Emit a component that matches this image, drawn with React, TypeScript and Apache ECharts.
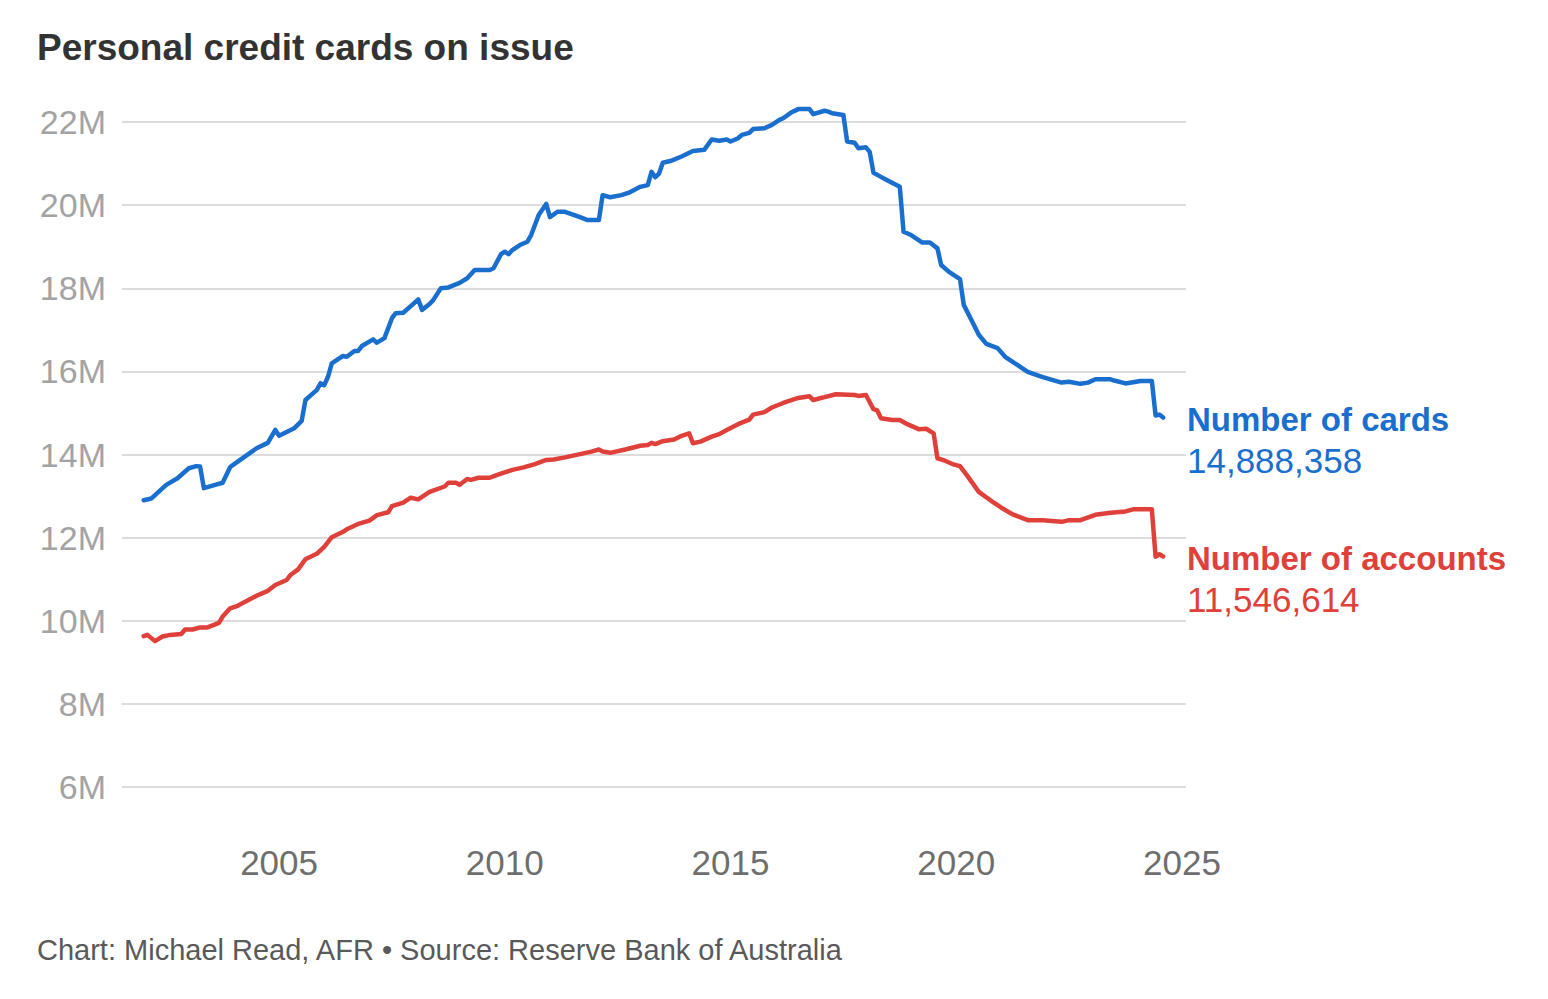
import React, { useEffect, useRef } from "react";
import * as echarts from "echarts";

const TITLE = "Personal credit cards on issue";
const FOOTER = "Chart: Michael Read, AFR \u2022 Source: Reserve Bank of Australia";
const X_TICKS = [2005, 2010, 2015, 2020, 2025];
const Y_MIN = 6;
const Y_MAX = 22;
const Y_STEP = 2;

const cardsDates = [
  "2002-01","2002-03","2002-07","2002-10","2003-01","2003-03","2003-04","2003-05","2003-08","2003-10","2003-12",
  "2004-02","2004-07","2004-10","2004-12","2005-01","2005-05","2005-07","2005-08","2005-10","2005-11","2005-12",
  "2006-01","2006-02","2006-03","2006-06","2006-07","2006-09","2006-10","2006-11","2007-02","2007-03","2007-05",
  "2007-07","2007-08","2007-10","2007-12","2008-02","2008-03","2008-05","2008-06","2008-08","2008-10","2009-01",
  "2009-03","2009-05","2009-09","2009-10","2009-12","2010-01","2010-02","2010-03","2010-05","2010-07","2010-08",
  "2010-10","2010-12","2011-01","2011-03","2011-05","2011-09","2011-11","2012-02","2012-03","2012-05","2012-08",
  "2012-10","2013-01","2013-03","2013-04","2013-05","2013-06","2013-07","2013-09","2013-12","2014-03","2014-06",
  "2014-08","2014-10","2014-12","2015-01","2015-03","2015-04","2015-06","2015-07","2015-10","2015-12","2016-02",
  "2016-03","2016-05","2016-07","2016-10","2016-11","2017-02","2017-03","2017-04","2017-07","2017-08","2017-10",
  "2017-11","2018-01","2018-02","2018-03","2018-05","2018-06","2018-10","2018-11","2019-01","2019-04","2019-06",
  "2019-08","2019-09","2019-11","2020-02","2020-03","2020-05","2020-07","2020-09","2020-12","2021-02","2021-04",
  "2021-08","2021-12","2022-05","2022-07","2022-10","2022-12","2023-02","2023-06","2023-07","2023-10","2023-12",
  "2024-02","2024-05","2024-06","2024-07","2024-08"
];
const cardsValues = [
  12.90,12.94,13.27,13.43,13.67,13.72,13.71,13.19,13.27,13.32,13.70,
  13.83,14.15,14.28,14.59,14.45,14.63,14.81,15.31,15.47,15.55,15.71,
  15.67,15.87,16.19,16.37,16.35,16.49,16.49,16.61,16.77,16.69,16.80,
  17.28,17.40,17.41,17.57,17.73,17.48,17.62,17.72,18.00,18.02,18.13,
  18.24,18.44,18.44,18.48,18.82,18.88,18.82,18.92,19.04,19.12,19.28,
  19.76,20.03,19.71,19.84,19.84,19.71,19.64,19.64,20.24,20.19,20.24,
  20.30,20.44,20.48,20.80,20.67,20.76,21.02,21.06,21.17,21.30,21.33,
  21.58,21.55,21.58,21.53,21.61,21.69,21.74,21.83,21.85,21.93,22.05,
  22.09,22.22,22.31,22.31,22.19,22.27,22.25,22.21,22.17,21.53,21.50,
  21.37,21.39,21.28,20.78,20.68,20.63,20.44,19.36,19.28,19.10,19.10,
  18.96,18.56,18.40,18.22,17.60,17.24,16.88,16.66,16.56,16.35,16.23,
  15.99,15.86,15.73,15.75,15.70,15.73,15.81,15.81,15.78,15.71,15.74,
  15.77,15.77,14.94,14.96,14.888358
];

const accountsDates = [
  "2002-01","2002-02","2002-04","2002-06","2002-08","2002-11","2002-12","2003-02","2003-04","2003-06","2003-09",
  "2003-10","2003-12","2004-02","2004-04","2004-07","2004-10","2004-12","2005-03","2005-04","2005-06","2005-08",
  "2005-11","2006-01","2006-03","2006-06","2006-07","2006-10","2007-01","2007-03","2007-06","2007-07","2007-10",
  "2007-12","2008-02","2008-05","2008-09","2008-10","2008-12","2009-01","2009-03","2009-04","2009-06","2009-09",
  "2009-11","2010-03","2010-06","2010-09","2010-12","2011-02","2011-05","2011-09","2011-12","2012-02","2012-03",
  "2012-05","2012-09","2013-01","2013-03","2013-04","2013-05","2013-07","2013-10","2013-12","2014-02","2014-03",
  "2014-05","2014-08","2014-10","2014-12","2015-03","2015-06","2015-07","2015-10","2015-12","2016-03","2016-07",
  "2016-10","2016-11","2017-01","2017-02","2017-05","2017-10","2017-11","2018-01","2018-03","2018-04","2018-05",
  "2018-08","2018-10","2018-12","2019-03","2019-05","2019-07","2019-08","2019-10","2019-12","2020-02","2020-04",
  "2020-07","2020-11","2021-01","2021-04","2021-08","2021-12","2022-05","2022-07","2022-10","2023-02","2023-06",
  "2023-10","2023-12","2024-05","2024-06","2024-07","2024-08"
];
const accountsValues = [
  9.63,9.66,9.51,9.62,9.66,9.68,9.79,9.79,9.84,9.84,9.95,
  10.10,10.30,10.36,10.46,10.60,10.72,10.86,10.98,11.10,11.23,11.48,
  11.61,11.78,12.01,12.14,12.20,12.33,12.41,12.54,12.61,12.76,12.84,
  12.96,12.92,13.10,13.23,13.32,13.32,13.27,13.41,13.39,13.44,13.44,
  13.51,13.63,13.69,13.77,13.87,13.88,13.93,14.01,14.07,14.12,14.07,
  14.04,14.12,14.21,14.23,14.28,14.25,14.32,14.36,14.45,14.51,14.27,
  14.31,14.43,14.49,14.59,14.73,14.84,14.96,15.02,15.13,15.24,15.36,
  15.40,15.31,15.36,15.38,15.45,15.43,15.41,15.43,15.09,15.06,14.87,
  14.83,14.83,14.73,14.61,14.62,14.51,13.91,13.85,13.77,13.72,13.48,
  13.10,12.84,12.72,12.56,12.42,12.42,12.38,12.42,12.42,12.55,12.60,
  12.63,12.68,12.68,11.54,11.60,11.546614
];

const SERIES_NAMES = ["Number of cards", "Number of accounts"];
const FINAL_LABELS = ["14,888,358", "11,546,614"];

const BLUE = "#1a6fce";
const RED = "#e0403a";
const FONT = "'Liberation Sans', Arial, sans-serif";

const toYear = (d: string) => {
  const [y, m] = d.split("-").map(Number);
  return y + (m - 1) / 12;
};

export default function App() {
  const ref = useRef<HTMLDivElement>(null);
  useEffect(() => {
    if (!ref.current) return;
    const chart = echarts.init(ref.current, null, { renderer: "svg" });
    const cards = cardsDates.map((d, i) => [toYear(d), cardsValues[i]]);
    const accounts = accountsDates.map((d, i) => [toYear(d), accountsValues[i]]);
    const lineStyle = (color: string) => ({ color, width: 4.5, cap: "round", join: "round" });
    chart.setOption({
      animation: false,
      backgroundColor: "#ffffff",
      grid: { left: 122, right: 362, top: 122, bottom: 212, containLabel: false },
      xAxis: {
        type: "value",
        min: 2001.52,
        max: 2025.09,
        axisLine: { show: false },
        axisTick: { show: false },
        splitLine: { show: false },
        axisLabel: {
          customValues: X_TICKS,
          formatter: (v: number) => String(v),
          color: "#6e6e6e",
          fontSize: 35,
          fontFamily: FONT,
          margin: 58,
        },
      },
      yAxis: {
        type: "value",
        min: Y_MIN,
        max: Y_MAX,
        interval: Y_STEP,
        axisLine: { show: false },
        axisTick: { show: false },
        splitLine: { lineStyle: { color: "#dcdcdc", width: 2 } },
        axisLabel: {
          formatter: (v: number) => `${v}M`,
          color: "#a3a3a3",
          fontSize: 34,
          fontFamily: FONT,
          margin: 16,
        },
      },
      series: [
        {
          name: SERIES_NAMES[0],
          type: "line",
          data: cards,
          showSymbol: false,
          clip: false,
          lineStyle: lineStyle(BLUE),
          itemStyle: { color: BLUE },
        },
        {
          name: SERIES_NAMES[1],
          type: "line",
          data: accounts,
          showSymbol: false,
          clip: false,
          lineStyle: lineStyle(RED),
          itemStyle: { color: RED },
        },
      ],
      graphic: [
        {
          type: "text",
          left: 37,
          top: 29,
          style: { text: TITLE, fill: "#333333", font: `bold 37px ${FONT}` },
        },
        {
          type: "text",
          left: 37,
          top: 935,
          style: { text: FOOTER, fill: "#595959", font: `29px ${FONT}` },
        },
        {
          type: "text",
          left: 1187,
          top: 403,
          style: { text: SERIES_NAMES[0], fill: BLUE, font: `bold 33px ${FONT}` },
        },
        {
          type: "text",
          left: 1187,
          top: 443,
          style: { text: FINAL_LABELS[0], fill: BLUE, font: `35px ${FONT}` },
        },
        {
          type: "text",
          left: 1187,
          top: 542,
          style: { text: SERIES_NAMES[1], fill: RED, font: `bold 33px ${FONT}` },
        },
        {
          type: "text",
          left: 1187,
          top: 582,
          style: { text: FINAL_LABELS[1], fill: RED, font: `35px ${FONT}` },
        },
      ],
    });
    return () => chart.dispose();
  }, []);
  return <div ref={ref} style={{ width: 1548, height: 999, margin: -8 }} />;
}
